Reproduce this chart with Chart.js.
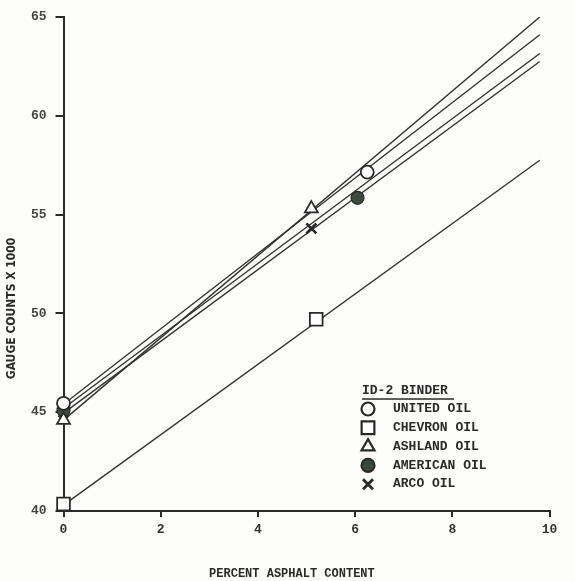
<!DOCTYPE html>
<html>
<head>
<meta charset="utf-8">
<script src="https://cdn.jsdelivr.net/npm/chart.js@4.4.1/dist/chart.umd.min.js"></script>
<style>
  html, body { margin: 0; padding: 0; background: #fcfcfa; }
  #wrap { width: 575px; height: 581px; position: relative; }
</style>
</head>
<body>
<div id="wrap"><canvas id="c" width="575" height="581"></canvas></div>
<script>
// ---- data ----
const xTicks = [0, 2, 4, 6, 8, 10];
const yTicks = [40, 45, 50, 55, 60, 65];
const seriesNames = ['UNITED OIL', 'CHEVRON OIL', 'ASHLAND OIL', 'AMERICAN OIL', 'ARCO OIL'];

// measured points (percent asphalt, gauge counts x 1000)
const unitedX = [0, 6.25];   const unitedY = [45.45, 57.15];
const chevronX = [0, 5.2];   const chevronY = [40.35, 49.7];
const ashlandX = [0, 5.1];   const ashlandY = [44.6, 55.3];
const americanX = [0, 6.05]; const americanY = [45.1, 55.85];
const arcoX = [0, 5.1];      const arcoY = [45.0, 54.3];

// fitted lines (start / end)
const fitX = [0, 9.8];
const unitedFit = [45.4, 64.1];
const chevronFit = [40.3, 57.75];
const ashlandFit = [44.6, 65.0];
const americanFit = [45.2, 63.15];
const arcoFit = [44.95, 62.75];

const toPts = (xs, ys) => xs.map((x, i) => ({ x: x, y: ys[i] }));

const INK = '#2a2a2a';
const styles = [
  { pointStyle: 'circle', radius: 6.5, bg: '#ffffff', bw: 1.8 },
  { pointStyle: 'rect', radius: 9, bg: '#ffffff', bw: 1.8 },
  { pointStyle: 'triangle', radius: 7.5, bg: '#ffffff', bw: 1.8 },
  { pointStyle: 'circle', radius: 6.5, bg: '#3b4a3c', bw: 1.2 },
  { pointStyle: 'crossRot', radius: 7, bg: INK, bw: 2.6 }
];

const markerX = [unitedX, chevronX, ashlandX, americanX, arcoX];
const markerY = [unitedY, chevronY, ashlandY, americanY, arcoY];
const fits = [unitedFit, chevronFit, ashlandFit, americanFit, arcoFit];

const datasets = [];
fits.forEach((f, i) => {
  datasets.push({
    label: seriesNames[i] + ' fit',
    data: toPts(fitX, f),
    showLine: true,
    borderColor: '#333333',
    borderWidth: 1.4,
    pointRadius: 0,
    fill: false,
    order: 2
  });
});
markerX.forEach((xs, i) => {
  const s = styles[i];
  datasets.push({
    label: seriesNames[i],
    data: toPts(xs, markerY[i]),
    showLine: false,
    clip: false,
    pointStyle: s.pointStyle,
    pointRadius: s.radius,
    pointHoverRadius: s.radius,
    pointBackgroundColor: s.bg,
    pointBorderColor: INK,
    pointBorderWidth: s.bw,
    order: 1
  });
});

const monoFont = "'Liberation Mono', 'DejaVu Sans Mono', monospace";

const legendPlugin = {
  id: 'binderLegend',
  afterDatasetsDraw(chart) {
    const ctx = chart.ctx;
    const x0 = 362, titleY = 391, rowY0 = 409, rowStep = 18.8;
    ctx.save();
    ctx.fillStyle = INK;
    ctx.textBaseline = 'middle';
    ctx.textAlign = 'left';
    ctx.font = "bold 13px " + monoFont;
    ctx.fillText('ID-2 BINDER', x0, titleY);
    ctx.strokeStyle = INK;
    ctx.lineWidth = 1.6;
    ctx.beginPath();
    ctx.moveTo(x0, titleY + 8);
    ctx.lineTo(x0 + 92, titleY + 8);
    ctx.stroke();
    seriesNames.forEach((name, i) => {
      const y = rowY0 + i * rowStep;
      const s = styles[i];
      ctx.fillStyle = s.bg;
      ctx.strokeStyle = INK;
      ctx.lineWidth = s.pointStyle === 'crossRot' ? 2.8 : 2.2;
      Chart.helpers.drawPoint(ctx, { pointStyle: s.pointStyle, radius: s.radius, rotation: 0, borderWidth: ctx.lineWidth }, x0 + 6, y);
      ctx.fillStyle = INK;
      ctx.font = "bold 13px " + monoFont;
      ctx.fillText(name, x0 + 31, y);
    });
    ctx.restore();
  }
};

const titlePlugin = {
  id: 'axisTitles',
  afterDraw(chart) {
    const ctx = chart.ctx;
    const a = chart.chartArea;
    ctx.save();
    ctx.fillStyle = INK;
    ctx.textAlign = 'center';
    ctx.textBaseline = 'middle';
    ctx.font = "bold 12px " + monoFont;
    ctx.fillText('PERCENT ASPHALT CONTENT', a.left + (a.right - a.left) * 0.47, 574);
    ctx.translate(12, a.top + (a.bottom - a.top) * 0.59);
    ctx.rotate(-Math.PI / 2);
    ctx.font = "bold 12px 'DejaVu Sans Condensed', 'DejaVu Sans', sans-serif";
    ctx.fillText('GAUGE COUNTS X 1000', 0, 0);
    ctx.restore();
  }
};

new Chart(document.getElementById('c'), {
  type: 'scatter',
  data: { datasets: datasets },
  options: {
    responsive: false,
    animation: false,
    layout: { padding: { left: 0, right: 25.5, top: 17, bottom: 0 } },
    plugins: { legend: { display: false }, tooltip: { enabled: false } },
    scales: {
      x: {
        type: 'linear', min: 0, max: 10,
        afterBuildTicks(scale) { scale.ticks = xTicks.map(v => ({ value: v })); },
        afterFit(scale) { scale.height = 70; },
        grid: { drawOnChartArea: false, tickLength: 6, color: INK, lineWidth: 2 },
        border: { display: true, color: INK, width: 2 },
        ticks: { color: '#333', padding: 5, font: { family: monoFont, size: 13, weight: 'bold' } }
      },
      y: {
        type: 'linear', min: 40, max: 65,
        afterBuildTicks(scale) { scale.ticks = yTicks.map(v => ({ value: v })); },
        afterFit(scale) { scale.width = 63.5; },
        grid: { drawOnChartArea: false, tickLength: 8, color: INK, lineWidth: 2 },
        border: { display: true, color: INK, width: 2 },
        ticks: { color: '#444', padding: 9, font: { family: monoFont, size: 13, weight: 'bold' } }
      }
    }
  },
  plugins: [legendPlugin, titlePlugin]
});
</script>
</body>
</html>
